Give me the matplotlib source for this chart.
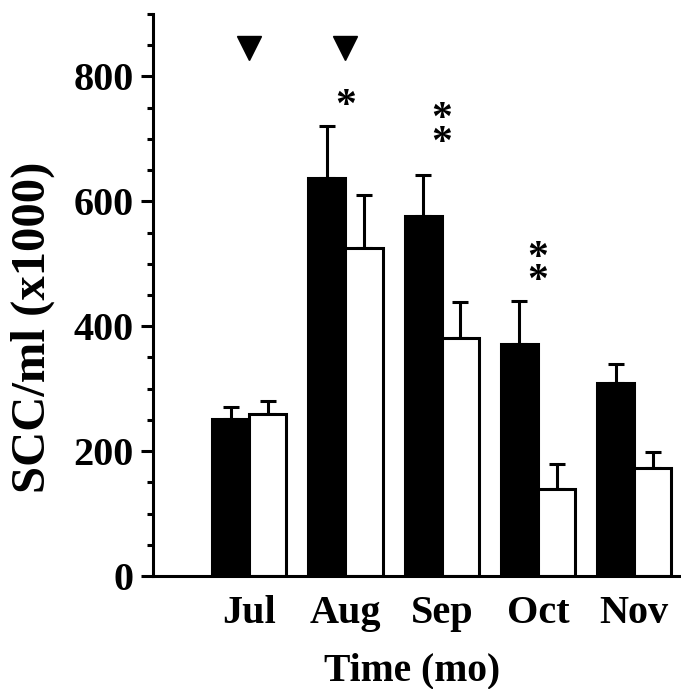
import matplotlib
matplotlib.use('Agg')
import matplotlib.pyplot as plt
import numpy as np

meses = ['Jul', 'Aug', 'Sep', 'Oct', 'Nov']
grupo_preto = [251, 637, 576, 371, 309]
erro_preto = [19, 84, 66, 69, 30]
grupo_branco = [259, 525, 381, 139, 173]
erro_branco = [21, 85, 57, 40, 25]

# marcas de significancia
triangulos_x = [1, 2]
triangulos_y = [845, 845]
asteriscos_x = [2, 3, 4]
asteriscos_y = [720, 662, 440]
asteriscos_txt = ['*', '*\n*', '*\n*']

plt.rcParams['font.family'] = ['Liberation Serif', 'DejaVu Serif']
plt.rcParams['font.weight'] = 'bold'

fig = plt.figure(figsize=(6.81, 6.89), dpi=100)
ax = fig.add_axes([153 / 681, 113 / 689, 528 / 681, 562 / 689])

x = np.arange(1, len(meses) + 1)
largura = 0.385
lw = 2.2

ax.errorbar(x - largura / 2, grupo_preto, yerr=[np.zeros(5), erro_preto], fmt='none',
            ecolor='black', elinewidth=lw, capsize=5.6, capthick=lw, zorder=1)
ax.errorbar(x + largura / 2, grupo_branco, yerr=[np.zeros(5), erro_branco], fmt='none',
            ecolor='black', elinewidth=lw, capsize=5.6, capthick=lw, zorder=1)
ax.bar(x - largura / 2, grupo_preto, largura, color='black', edgecolor='black',
       linewidth=lw, zorder=2)
ax.bar(x + largura / 2, grupo_branco, largura, color='white', edgecolor='black',
       linewidth=lw, zorder=2)

ax.plot(triangulos_x, triangulos_y, linestyle='none', marker='v', markersize=17,
        color='black', clip_on=False)
for xa, ya, t in zip(asteriscos_x, asteriscos_y, asteriscos_txt):
    ax.text(xa, ya, t, ha='center', va='bottom', fontsize=30, fontweight='bold',
            linespacing=0.5)

ax.set_xlim(0, 5.486)
ax.set_ylim(0, 900)
ax.set_yticks(np.arange(0, 801, 200))
ax.set_yticks(np.arange(0, 901, 50), minor=True)
ax.set_xticks(x)
ax.set_xticklabels(meses)

for lado in ['top', 'right']:
    ax.spines[lado].set_visible(False)
for lado in ['left', 'bottom']:
    ax.spines[lado].set_linewidth(lw)

ax.tick_params(axis='y', which='major', length=9, width=lw, labelsize=29, pad=5)
ax.tick_params(axis='y', which='minor', length=4.5, width=lw)
ax.tick_params(axis='x', length=0, labelsize=29, pad=14)

fig.text(33 / 681, 1 - 327 / 689, 'SCC/ml (x1000)', rotation=90, ha='center',
         va='center', fontsize=35, fontweight='bold')
fig.text(412 / 681, 9 / 689, 'Time (mo)', ha='center', va='baseline',
         fontsize=28.5, fontweight='bold')

fig.savefig('out.png', dpi=100)
